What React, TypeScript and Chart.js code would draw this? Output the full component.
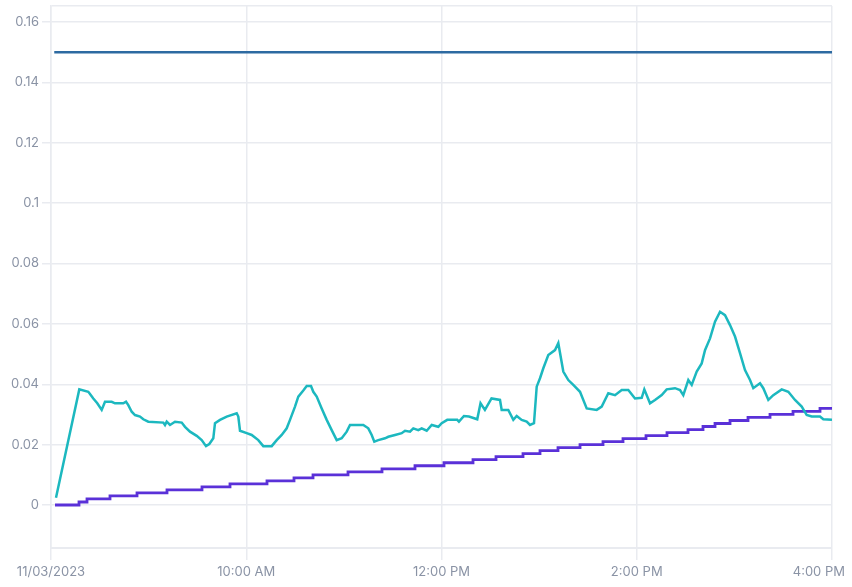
import React, { useEffect, useRef } from "react";
import { Chart, registerables } from "chart.js";

Chart.register(...registerables);

// minutes since 08:00 on 11/03/2023
const xTickMinutes = [0, 120, 240, 360, 480];
const xTickLabels = ["11/03/2023", "10:00 AM", "12:00 PM", "2:00 PM", "4:00 PM"];
const yTickValues = [0, 0.02, 0.04, 0.06, 0.08, 0.1, 0.12, 0.14, 0.16];

const limitTimes = [2, 480];
const limitValues = [0.15, 0.15];

const tealTimes = [
  3.07, 17.39, 22.92, 23.97, 26.0, 28.46, 31.16, 33.19, 37.31, 39.33, 44.43, 46.1, 47.51, 49.6, 51.63,
  54.7, 56.73, 59.8, 69.02, 70.06, 71.11, 73.14, 76.21, 80.33, 82.36, 85.43, 89.55, 92.62, 95.26, 97.29,
  99.75, 100.79, 103.87, 107.99, 114.13, 115.12, 116.16, 120.28, 123.35, 127.41, 130.48, 135.64, 138.71,
  141.79, 144.86, 146.89, 149.96, 151.99, 155.06, 157.15, 159.8, 161.21, 163.3, 166.37, 169.45, 172.52,
  175.59, 178.66, 181.74, 183.77, 191.94, 195.01, 197.1, 198.7, 201.16, 205.28, 207.31, 211.42, 215.54,
  217.57, 220.64, 222.67, 225.74, 227.83, 230.91, 233.98, 238.04, 240.12, 243.53, 249.67, 250.72, 253.79,
  256.86, 261.96, 263.99, 266.69, 270.74, 275.95, 276.99, 281.05, 284.13, 286.22, 289.29, 292.36, 294.39,
  296.85, 298.51, 300.54, 302.57, 305.64, 309.76, 311.79, 314.86, 317.94, 321.01, 325.13, 329.24, 335.39,
  338.46, 342.52, 346.64, 350.76, 354.81, 358.93, 363.05, 364.65, 368.15, 371.22, 375.34, 378.41, 383.51,
  386.59, 388.61, 391.69, 393.78, 396.85, 399.92, 401.95, 405.03, 408.1, 411.17, 414.24, 417.32, 420.39,
  423.46, 426.53, 429.61, 431.64, 435.76, 437.78, 440.86, 443.93, 449.09, 453.15, 457.26, 461.38, 464.45,
  467.53, 472.63, 474.66, 480,
];
const tealValues = [
  0.0024, 0.0383, 0.0375, 0.0368, 0.0353, 0.0337, 0.0315, 0.0342, 0.0342, 0.0337, 0.0337, 0.0342, 0.0331,
  0.0309, 0.0298, 0.0293, 0.0284, 0.0276, 0.0273, 0.0265, 0.0276, 0.0265, 0.0276, 0.0273, 0.0259, 0.0243,
  0.0229, 0.0215, 0.0195, 0.0202, 0.0221, 0.0271, 0.0282, 0.0293, 0.0304, 0.0293, 0.0246, 0.0238, 0.0232,
  0.0215, 0.0195, 0.0195, 0.0215, 0.0232, 0.0254, 0.0282, 0.0326, 0.0359, 0.0379, 0.0394, 0.0394, 0.0375,
  0.0359, 0.032, 0.0282, 0.0248, 0.0215, 0.0221, 0.0243, 0.0265, 0.0265, 0.0254, 0.0232, 0.021, 0.0215,
  0.0221, 0.0226, 0.0232, 0.0238, 0.0246, 0.0243, 0.0254, 0.0248, 0.0254, 0.0246, 0.0265, 0.0259, 0.0271,
  0.0282, 0.0282, 0.0276, 0.0295, 0.0293, 0.0284, 0.0337, 0.0315, 0.0353, 0.0348, 0.0315, 0.0315, 0.0282,
  0.0295, 0.0282, 0.0276, 0.0265, 0.0271, 0.0392, 0.042, 0.0453, 0.0497, 0.0513, 0.0536, 0.0442, 0.0414,
  0.0398, 0.0375, 0.032, 0.0315, 0.0326, 0.037, 0.0364, 0.0381, 0.0381, 0.0353, 0.0355, 0.0383, 0.0337,
  0.0348, 0.0364, 0.0383, 0.0387, 0.0381, 0.0364, 0.0414, 0.0398, 0.0442, 0.0469, 0.0513, 0.0552, 0.0607,
  0.064, 0.0629, 0.0596, 0.0558, 0.0503, 0.0447, 0.0414, 0.0387, 0.0403, 0.0387, 0.0348, 0.0364, 0.0383,
  0.0375, 0.0348, 0.0326, 0.0298, 0.0293, 0.0293, 0.0284, 0.0282,
];

const purpleTimes = [
  2.46, 17.21, 22.13, 36.26, 52.86, 71.29, 92.8, 110.01, 132.75, 149.35, 161.03, 182.54, 203.43, 223.71,
  241.54, 259.36, 273.5, 290.09, 300.54, 311.6, 325.13, 339.26, 351.55, 365.69, 378.59, 391.5, 400.72,
  408.1, 417.32, 428.38, 441.9, 456.04, 472.63, 480,
];
const purpleValues = [
  0, 0.001, 0.002, 0.003, 0.004, 0.005, 0.006, 0.007, 0.008, 0.009, 0.01, 0.011, 0.012, 0.013, 0.014,
  0.015, 0.016, 0.017, 0.018, 0.019, 0.02, 0.021, 0.022, 0.023, 0.024, 0.025, 0.026, 0.027, 0.028, 0.029,
  0.03, 0.031, 0.032, 0.032,
];

const Y_MIN = -0.014244;
const Y_MAX = 0.1653;

const zip = (xs: number[], ys: number[]) => xs.map((x, i) => ({ x, y: ys[i] }));

// keeps the last x-axis label inside the canvas (right-aligned), as in the reference
const lastLabelInside = {
  id: "lastLabelInside",
  beforeDraw(chart: any) {
    const xs = chart.scales.x;
    const items = xs.getLabelItems();
    const last = items[items.length - 1];
    if (last && last.options) {
      last.options.textAlign = "right";
      last.options.translation = [chart.width - 7, last.options.translation[1]];
    }
  },
};

export default function App() {
  const ref = useRef<HTMLCanvasElement | null>(null);
  useEffect(() => {
    if (!ref.current) return;
    const font = { family: "Inter, 'Open Sans', sans-serif", size: 13 };
    const tickColor = "#8a93a5";
    const gridColor = "#e9ebf0";
    const chart = new Chart(ref.current, {
      type: "line",
      data: {
        datasets: [
          {
            data: zip(limitTimes, limitValues),
            borderColor: "#2d6aa1",
            borderWidth: 2.5,
            pointRadius: 0,
          },
          {
            data: zip(tealTimes, tealValues),
            borderColor: "#1cb8bf",
            borderWidth: 2.5,
            pointRadius: 0,
            tension: 0,
          },
          {
            data: zip(purpleTimes, purpleValues),
            borderColor: "#5a31d8",
            borderWidth: 2.8,
            pointRadius: 0,
            stepped: true,
          },
        ],
      },
      options: {
        animation: false,
        responsive: false,
        layout: { padding: { top: 6, right: 20, left: 0, bottom: 0 } },
        plugins: { legend: { display: false }, tooltip: { enabled: false } },
        scales: {
          x: {
            type: "linear",
            min: 0,
            max: 480,
            afterBuildTicks: (scale: any) => {
              scale.ticks = xTickMinutes.map((v) => ({ value: v }));
            },
            afterFit: (scale: any) => {
              scale.height = 39;
              scale.paddingLeft = 0;
              scale.paddingRight = 0;
            },
            ticks: {
              color: tickColor,
              font,
              padding: 4,
              maxRotation: 0,
              autoSkip: false,
              callback: (v: any) => {
                const i = xTickMinutes.indexOf(Number(v));
                return i >= 0 ? xTickLabels[i] : "";
              },
            },
            grid: { color: gridColor, lineWidth: 1.5, tickLength: 12 },
            border: { color: gridColor, width: 2 },
          },
          y: {
            type: "linear",
            min: Y_MIN,
            max: Y_MAX,
            afterBuildTicks: (scale: any) => {
              scale.ticks = [...yTickValues.map((v) => ({ value: v })), { value: Y_MAX }];
            },
            afterFit: (scale: any) => {
              scale.width = 51;
              scale.paddingTop = 0;
              scale.paddingBottom = 0;
            },
            ticks: {
              color: tickColor,
              font,
              padding: 3,
              autoSkip: false,
              callback: (v: any) => {
                const n = Number(v);
                if (!yTickValues.some((t) => Math.abs(t - n) < 1e-9)) return "";
                return String(Number(n.toFixed(2)));
              },
            },
            grid: {
              color: gridColor,
              lineWidth: 1.5,
              tickLength: 9,
              tickColor: (ctx: any) =>
                ctx.tick && Math.abs(ctx.tick.value - Y_MAX) < 1e-9 ? "rgba(0,0,0,0)" : gridColor,
            },
            border: { color: gridColor, width: 1.5 },
          },
        },
      },
      plugins: [lastLabelInside],
    } as any);
    return () => chart.destroy();
  }, []);
  return (
    <div style={{ position: "fixed", left: 0, top: 0, width: 852, height: 587, background: "#fff" }}>
      <canvas ref={ref} width={852} height={587} style={{ display: "block" }} />
    </div>
  );
}
